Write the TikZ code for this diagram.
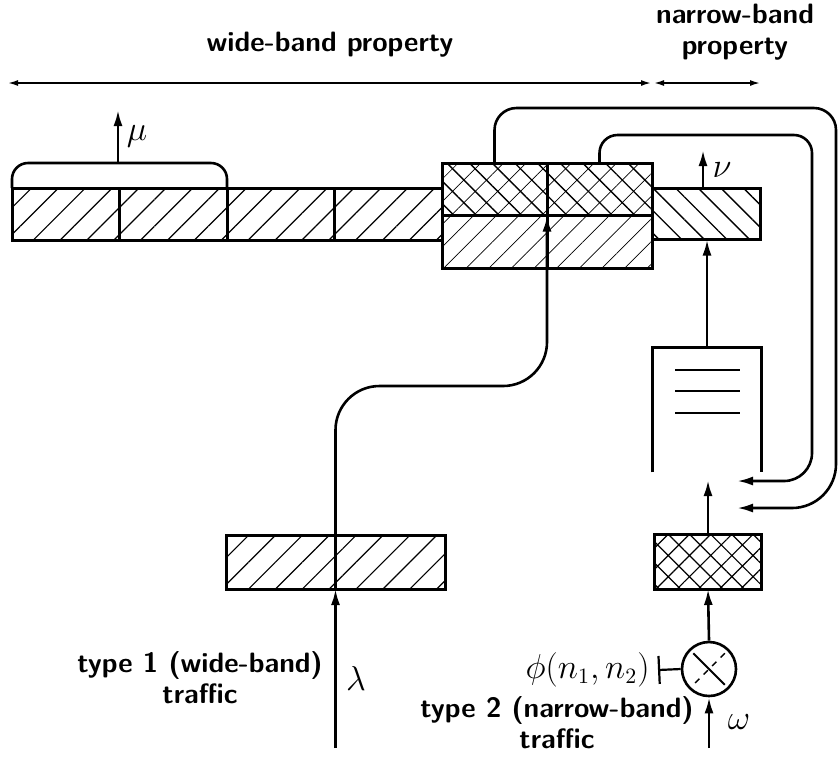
\documentclass[tikz,border=0pt]{standalone}
\usepackage{tikz}
\usetikzlibrary{positioning,arrows.meta,patterns.meta,calc}
\newcommand\lbl{\fontsize{14}{15.5}\selectfont\sffamily\bfseries}
\newcommand\sym{\fontsize{16}{17}\selectfont}
\tikzset{
    cell/.style={rectangle, draw, line width=1.5pt, inner sep=0pt, outer sep=0pt, minimum width=53.75pt, minimum height=26pt},
    bigcell/.style={cell, minimum width=52.5pt, minimum height=26.25pt},
    ne lines/.style={pattern={Lines[angle=45,distance=9.5pt,line width=0.6pt]}},
    ne thin/.style={pattern={Lines[angle=45,distance=8pt,line width=0.35pt]}},
    nw lines/.style={pattern={Lines[angle=-45,distance=8pt,line width=0.7pt]}},
    cross lines/.style={pattern={Hatch[angle=45,distance=7.5pt,line width=0.6pt]}},
    arrow/.style={-{Latex[length=8pt,width=4.5pt]}, line width=1.3pt},
    wire/.style={line width=1.3pt},
    span/.style={{Latex[length=5pt,width=3pt]}-{Latex[length=5pt,width=3pt]}, line width=0.8pt},
    txt/.style={font=\lbl, align=center, inner sep=1pt}
}
\begin{document}
\begin{tikzpicture}[x=0.5pt, y=-0.5pt]
    \useasboundingbox (0,0) rectangle (838,757);
    % property spans
    \coordinate (wl) at (8,83);
    \coordinate (wr) at (651,83);
    \coordinate (nl) at (654,83);
    \coordinate (nr) at (760,83);
    \draw[span] (wl) -- (wr);
    \draw[span] (nl) -- (nr);
    \node[txt] (wprop) at (330,45) {wide-band property};
    \node[txt] (nprop) at (735,32) {narrow-band\\property};

    % wide-band property
    \node[cell, ne lines] (w1) at (65.75,214) {};
    \node[cell, ne lines, right=0pt of w1] (w2) {};
    \node[cell, ne lines, right=0pt of w2] (w3) {};
    \node[cell, ne lines, right=0pt of w3] (w4) {};
    \node[bigcell, nw lines, postaction={ne thin}] (ul) at (494.5,189.25) {};
    \node[bigcell, nw lines, postaction={ne thin}, right=0pt of ul] (ur) {};
    \node[bigcell, ne thin, below=0pt of ul] (ll) {};
    \node[bigcell, ne thin, below=0pt of ur] (lr) {};

    % narrow-band property
    \node[cell, nw lines, minimum width=54pt, minimum height=25.5pt] (nb) at (706,214) {};

    % departures
    \coordinate (mutop) at (118,163);
    \coordinate (mutip) at (118,110);
    \draw[wire, rounded corners=8pt] (w1.north west) |- (mutop) -| (w2.north east);
    \draw[arrow] (mutop) -- (mutip);
    \node[font=\sym] (mu) at (137,136) {$\mu$};
    \coordinate (nutip) at (703,150);
    \draw[arrow] (nb.north -| nutip) -- (nutip);
    \node[font=\sym] (nu) at (722,170) {$\nu$};

    % queue
    \node[minimum width=54.5pt, minimum height=62pt, inner sep=0pt] (q) at (707,410) {};
    \draw[line width=1.5pt] (q.south west) -- (q.north west) -- (q.north east) -- (q.south east);
    \foreach \y in {370,391,413}
        \draw[line width=1pt] (675,\y) -- (740,\y);
    \draw[arrow] (q.north) -- (q.north |- nb.south);

    % type 2 arrivals
    \node[cell, cross lines, minimum width=53.5pt, minimum height=27.5pt] (xb) at (708,561.5) {};
    \coordinate (qin) at (708,480);
    \draw[arrow] (xb.north) -- (qin);
    \node[circle, draw, line width=1.3pt, minimum size=27pt, inner sep=0pt] (mix) at (709,669) {};
    \draw[line width=0.9pt, shorten <=3pt, shorten >=3pt] (mix.north west) -- (mix.south east);
    \draw[line width=0.7pt, dashed, shorten <=3pt, shorten >=3pt] (mix.north east) -- (mix.south west);
    \draw[arrow] (mix.north) -- (xb.south);
    \coordinate (omfoot) at (709,748);
    \draw[arrow] (omfoot) -- (mix.south);
    \node[font=\sym] (om) at (739,722) {$\omega$};
    \node[font=\sym, anchor=east, inner sep=0pt] (phi) at (650,670) {$\phi(n_1,n_2)$};
    \draw[{Bar[width=14pt]}-, line width=1.1pt] ([xshift=4pt]phi.east) -- (mix.west);
    \node[txt] (type2) at (557,723) {type 2 (narrow-band)\\traffic};

    % feedback
    \coordinate (fbout) at (737,508);
    \coordinate (fbin) at (737,481);
    \draw[arrow] (ul.north) [rounded corners=11pt] |- (836,108) [rounded corners=22pt] |- (fbout);
    \draw[arrow] (ur.north) [rounded corners=9pt] |- (812,135) [rounded corners=14pt] |- (fbin);

    % type 1 arrivals
    \node[cell, ne lines, minimum width=109.5pt, minimum height=27pt] (wb) at (335.5,562) {};
    \coordinate (lamfoot) at (335.5,748);
    \coordinate (bend) at (547,386);
    \draw[arrow] (lamfoot) -- (wb.south);
    \draw[wire] (wb.south) -- (wb.north);
    \draw[arrow, rounded corners=22pt] (wb.north) |- (bend) -- (ul.south east);
    \node[font=\sym] (lam) at (356,678) {$\lambda$};
    \node[txt] (type1) at (200,678) {type 1 (wide-band)\\traffic};
\end{tikzpicture}
\end{document}
